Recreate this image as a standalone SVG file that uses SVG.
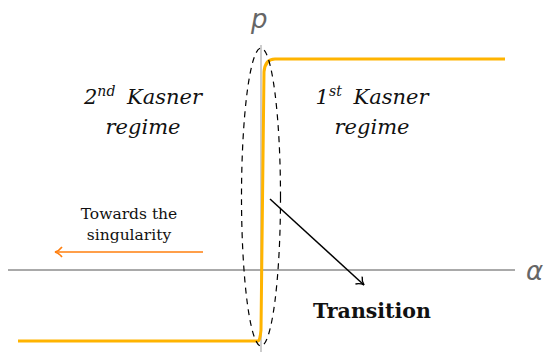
<svg xmlns="http://www.w3.org/2000/svg" width="550" height="352" viewBox="0 0 550 352">
<style>
.lbl{font-family:"DejaVu Serif",serif;font-style:italic;font-size:21px;fill:#111;text-anchor:middle}
.small{font-family:"DejaVu Serif",serif;font-size:15.5px;fill:#111;text-anchor:middle}
.bold{font-family:"DejaVu Serif",serif;font-weight:bold;font-size:20.5px;fill:#111;text-anchor:middle}
.ax{font-family:"DejaVu Sans",sans-serif;font-style:italic;font-size:26px;fill:#666}
</style>
<defs>
<marker id="blk" viewBox="0 0 12 12" refX="10" refY="6" markerWidth="12" markerHeight="12" markerUnits="userSpaceOnUse" orient="auto">
<path d="M3,1 Q6,5 10,6 Q6,7 3,11" fill="none" stroke="#000" stroke-width="1.4"/>
</marker>
<marker id="org" viewBox="0 0 12 12" refX="10" refY="6" markerWidth="12" markerHeight="12" markerUnits="userSpaceOnUse" orient="auto">
<path d="M3,1 Q6,5 10,6 Q6,7 3,11" fill="none" stroke="#ff7f0e" stroke-width="1.6"/>
</marker>
</defs>
<g id="axes">
<line x1="261" y1="45" x2="261" y2="352" stroke="#aaa" stroke-width="1.2"/>
<line x1="8" y1="270" x2="515" y2="270" stroke="#555" stroke-width="1"/>
<text class="ax" x="251" y="28">p</text>
<text class="ax" x="526" y="280">α</text>
</g>
<g id="curve">
<path d="M18,341 L258,341 Q260,341 261,330 L264,72 Q265,59 275,59 L505,59" fill="none" stroke="#ffb400" stroke-width="3"/>
</g>
<g id="transition-ellipse">
<ellipse cx="261" cy="197" rx="19.5" ry="149" fill="none" stroke="#000" stroke-width="1.2" stroke-dasharray="6,5"/>
</g>
<g id="connectors">
<line x1="270" y1="199" x2="364" y2="285" stroke="#000" stroke-width="1.5" marker-end="url(#blk)"/>
<line x1="203" y1="252" x2="55" y2="252" stroke="#ff7f0e" stroke-width="1.6" marker-end="url(#org)"/>
</g>
<g id="second-regime">
<text class="lbl" x="143" y="104">2<tspan font-size="14" dy="-8">nd</tspan><tspan dy="8" dx="5"> Kasner</tspan></text>
<text class="lbl" x="143" y="134">regime</text>
</g>
<g id="first-regime">
<text class="lbl" x="372" y="104">1<tspan font-size="14" dy="-8">st</tspan><tspan dy="8" dx="5"> Kasner</tspan></text>
<text class="lbl" x="372" y="134">regime</text>
</g>
<g id="towards">
<text class="small" x="129" y="219">Towards the</text>
<text class="small" x="129" y="240">singularity</text>
</g>
<g id="transition-label">
<text class="bold" x="372" y="318">Transition</text>
</g>
</svg>
